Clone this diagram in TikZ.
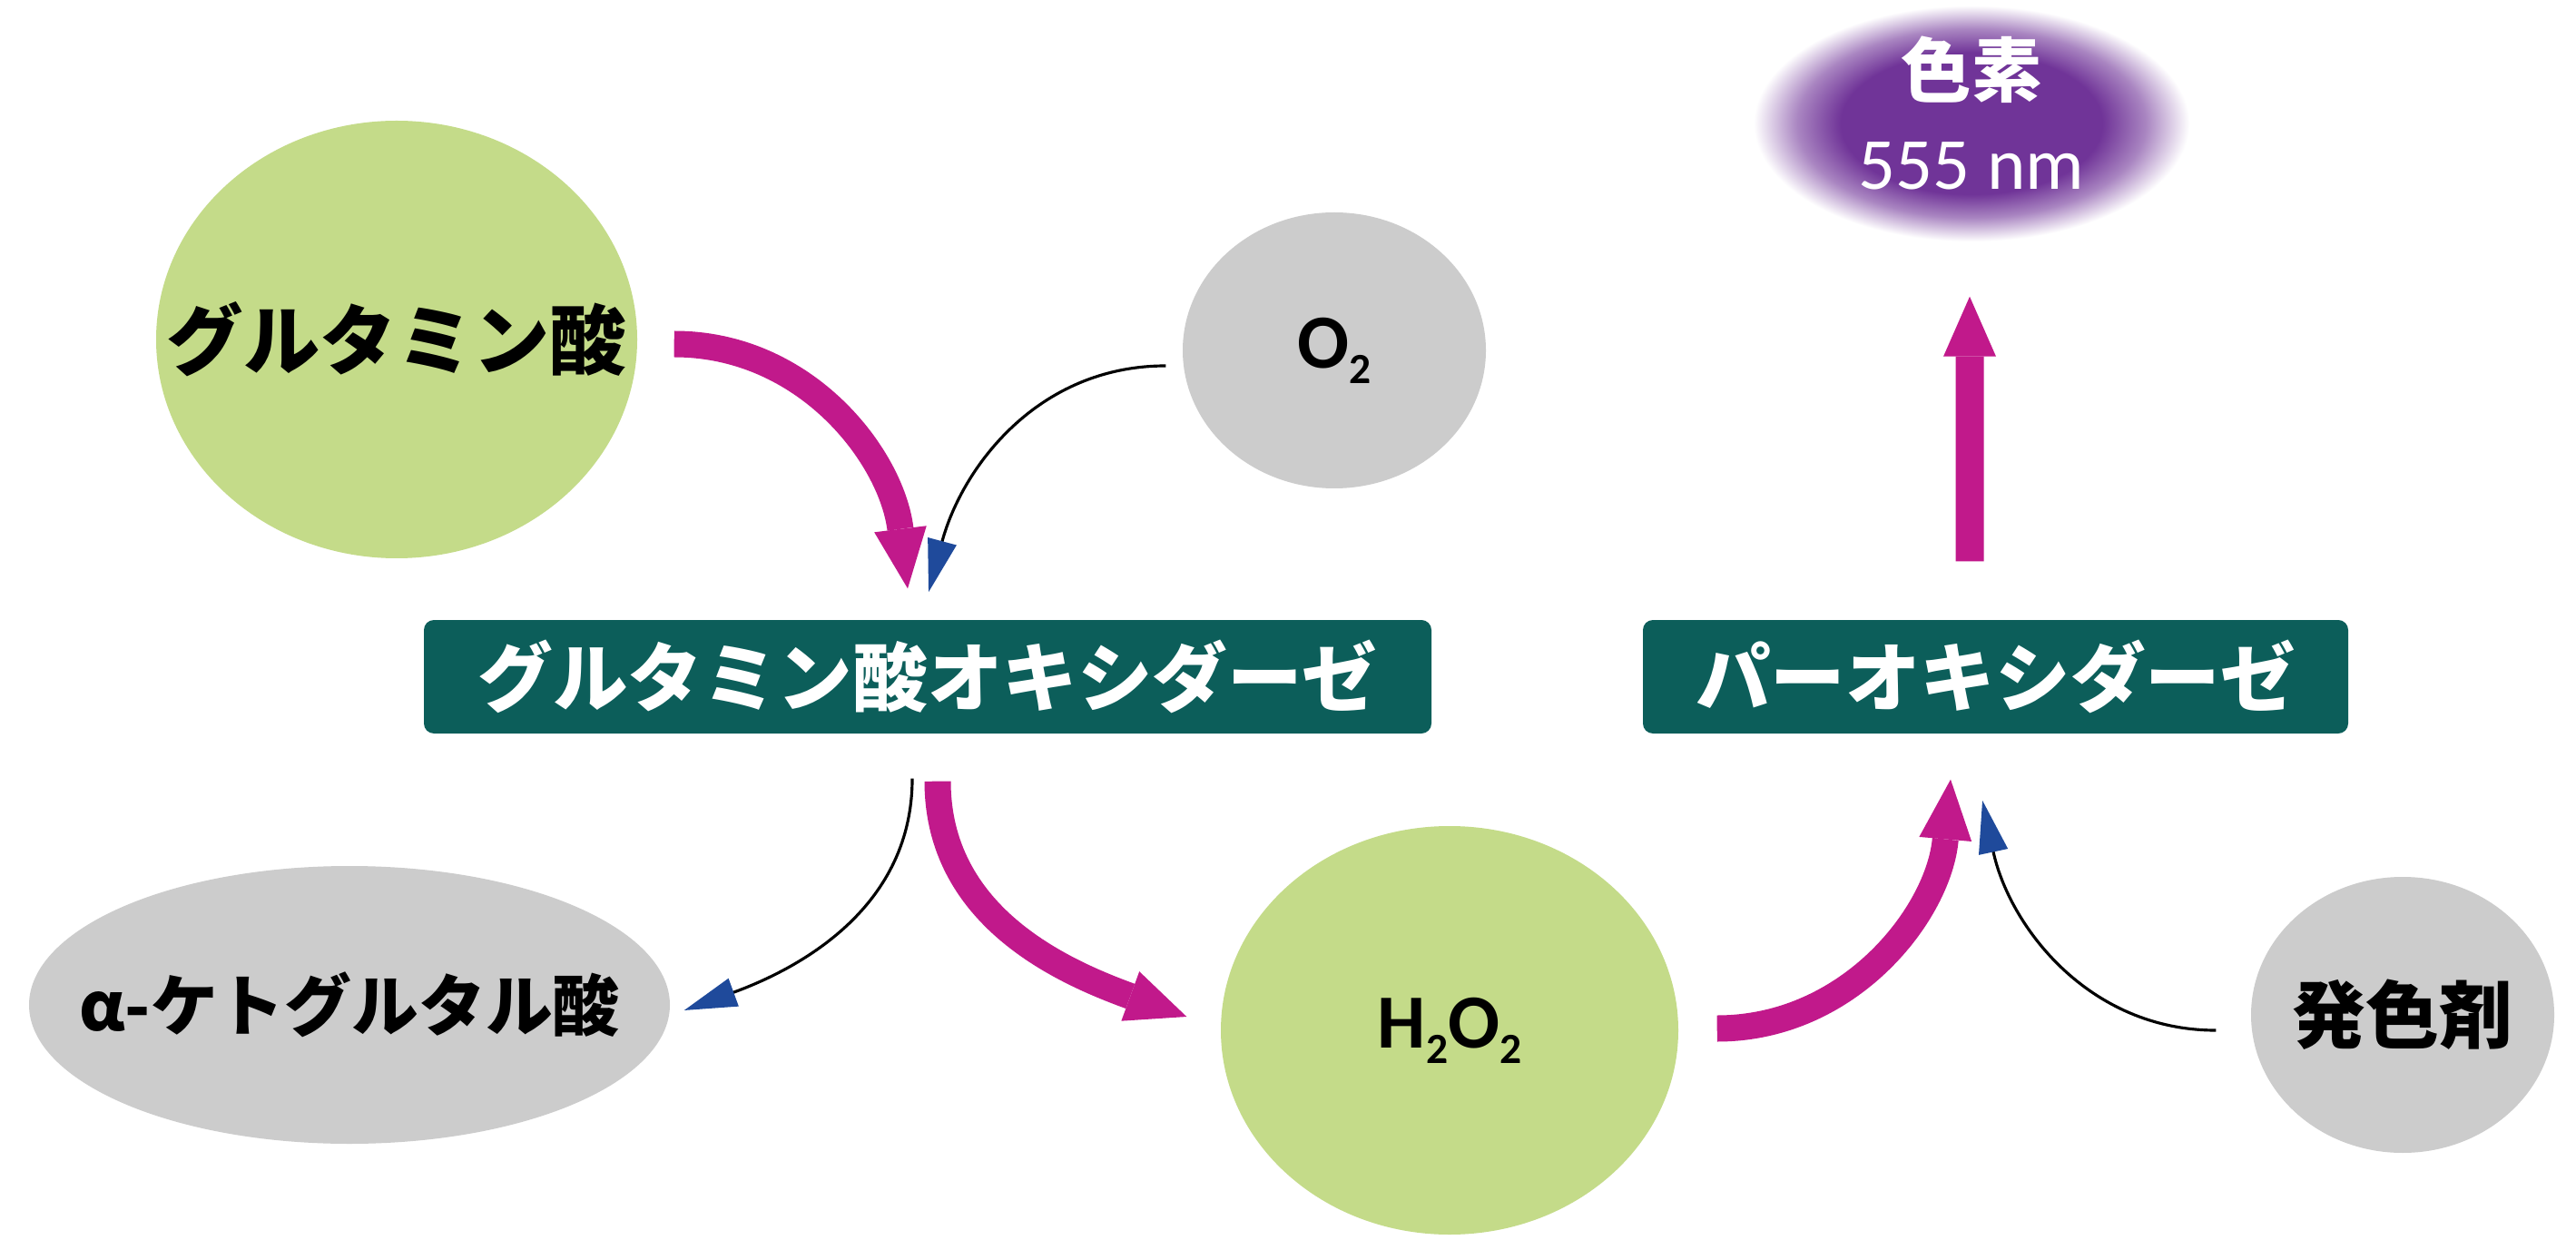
\documentclass[tikz,border=0pt]{standalone}
\usepackage{fontspec}
\usepackage{tikz}
\usetikzlibrary{shapes.geometric, arrows.meta}
\newfontfamily\jp{Noto Sans CJK JP}
\newfontfamily\carl{Carlito}
\definecolor{leafgreen}{HTML}{C4DB89}
\definecolor{softgrey}{HTML}{CCCCCC}
\definecolor{enzteal}{HTML}{0C5E5A}
\definecolor{flowpink}{HTML}{C1198B}
\definecolor{dyepurple}{HTML}{703498}
\definecolor{tipblue}{HTML}{1F4A9B}
\pgfdeclareradialshading{dyeglow}{\pgfpointorigin}{color(0bp)=(dyepurple); color(15bp)=(dyepurple); color(20bp)=(dyepurple!60!white); color(25bp)=(white); color(50bp)=(white)}
\newcommand\low[1]{\raisebox{-4.8pt}{\fontsize{13.5pt}{14pt}\selectfont #1}}
% label that does not widen its ellipse
\newcommand\lbl[1]{\makebox[0pt]{#1}}

\begin{document}
\begin{tikzpicture}
    \fill[white] (0,0) rectangle (28.38,-13.66);
    \useasboundingbox (0,0) rectangle (28.38,-13.66);

    % --- DEFINE STYLES ---
    % Style for substrate / product ellipses
    \tikzstyle{chem} = [ellipse, inner sep=0pt, text=black, font=\jp\bfseries\fontsize{23pt}{27pt}\selectfont]
    \tikzstyle{green_chem} = [chem, fill=leafgreen]
    \tikzstyle{grey_chem} = [chem, fill=softgrey]
    % Style for the coloured dye
    \tikzstyle{dye_glow} = [ellipse, inner sep=0pt, shading=dyeglow, text=white, minimum width=4.8cm, minimum height=2.6cm, font=\fontsize{22pt}{29pt}\selectfont]
    % Style for enzyme boxes
    \tikzstyle{enzyme} = [rectangle, rounded corners=1.1mm, fill=enzteal, text=white, minimum height=1.25cm, inner sep=0pt, font=\jp\bfseries\fontsize{23.5pt}{28pt}\selectfont]
    % Style for main (thick) arrows
    \tikzstyle{main_flow} = [flowpink, line width=2.9mm, -{Triangle[length=6.6mm, width=5.8mm, line width=0pt]}]
    % Style for side (thin) arrows
    \tikzstyle{side_flow} = [black, line width=0.9pt, -{Triangle[length=5.8mm, width=3.2mm, color=tipblue]}]

    % --- NODES ---
    \node[green_chem, minimum width=5.3cm, minimum height=4.82cm, font=\jp\bfseries\fontsize{24pt}{28pt}\selectfont] (glu) at (4.37,-3.74) {\lbl{グルタミン酸}};
    \node[grey_chem, minimum width=3.34cm, minimum height=3.04cm, font=\carl\bfseries\fontsize{24pt}{28pt}\selectfont] (oxy) at (14.70,-3.86) {\lbl{\raisebox{-3.5pt}{O\low{2}}}};
    \node[dye_glow] (dye) at (21.72,-1.36) {\smash{\lbl{\raisebox{-5.5pt}{\begin{tabular}{@{}c@{}}{\jp\bfseries 色素}\\{\carl\fontsize{23pt}{29pt}\selectfont 555 nm}\end{tabular}}}}};

    \node[enzyme, minimum width=11.10cm] (gox) at (10.22,-7.455) {グルタミン酸オキシダーゼ};
    \node[enzyme, minimum width=7.77cm] (pox) at (21.985,-7.455) {パーオキシダーゼ};

    \node[grey_chem, minimum width=7.06cm, minimum height=3.06cm, font=\jp\bfseries\fontsize{21pt}{25pt}\selectfont] (akg) at (3.85,-11.07) {\lbl{α-ケトグルタル酸}};
    \node[green_chem, minimum width=5.04cm, minimum height=4.5cm, font=\carl\bfseries\fontsize{24pt}{28pt}\selectfont] (per) at (15.97,-11.35) {\lbl{\raisebox{-2.5pt}{H\low{2}O\low{2}}}};
    \node[grey_chem, minimum width=3.34cm, minimum height=3.04cm] (dev) at (26.47,-11.18) {\lbl{発色剤}};

    % --- ARROWS ---
    % glutamate oxidase step
    \draw[main_flow] ([xshift=4mm,yshift=-0.5mm]glu.east) to[out=0, in=97] ([xshift=-2.2mm,yshift=3.4mm]gox.north);
    \draw[side_flow] ([xshift=-1.8mm,yshift=-1.7mm]oxy.west) to[out=180, in=75] ([xshift=0.1mm,yshift=3.0mm]gox.north);
    \draw[side_flow] ([xshift=-1.7mm,yshift=-4.9mm]gox.south) to[out=-90, in=20] ([xshift=1.5mm,yshift=-0.6mm]akg.east);
    \draw[main_flow] ([xshift=1.1mm,yshift=-5.2mm]gox.south) to[out=-90, in=160] ([xshift=-3.7mm,yshift=1.5mm]per.west);

    % peroxidase step
    \draw[main_flow] ([xshift=4.2mm,yshift=0.2mm]per.east) to[out=0, in=-95] ([xshift=-4.95mm,yshift=-5.0mm]pox.south);
    \draw[side_flow] ([xshift=-3.8mm,yshift=-1.7mm]dev.west) to[out=180, in=-78] ([xshift=-1.45mm,yshift=-7.3mm]pox.south);
    \draw[main_flow, line width=3.1mm] ([xshift=-2.85mm,yshift=6.4mm]pox.north) -- ([xshift=-0.2mm,yshift=-6.0mm]dye.south);
\end{tikzpicture}
\end{document}
